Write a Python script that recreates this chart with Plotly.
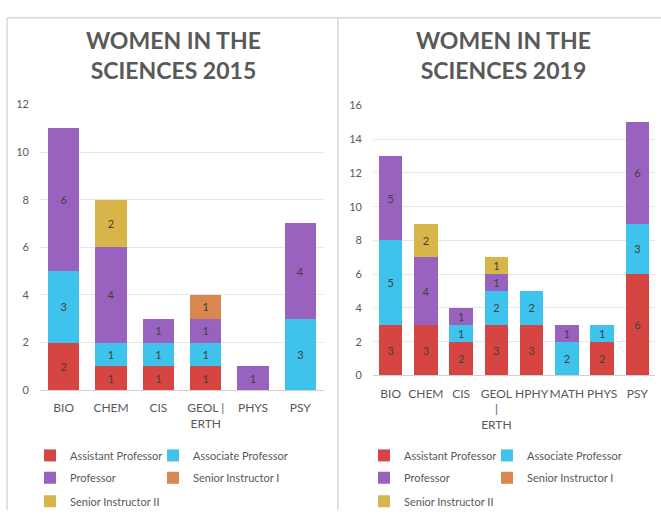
import plotly.graph_objects as go

W, H = 661, 516

# job titles (series) and their colours
roles = ["Assistant Professor", "Associate Professor", "Professor",
         "Senior Instructor I", "Senior Instructor II"]
role_colors = ["#d64541", "#3ec3ec", "#9a62bf", "#d9874f", "#d7b548"]

# 2015 chart
depts_2015 = ["BIO", "CHEM", "CIS", "GEOL | ERTH", "PHYS", "PSY"]
ticks_2015 = ["BIO", "CHEM", "CIS", "GEOL |<br>ERTH", "PHYS", "PSY"]
asst_2015 = [2, 1, 1, 1, 0, 0]
assoc_2015 = [3, 1, 1, 1, 0, 3]
prof_2015 = [6, 4, 1, 1, 1, 4]
si1_2015 = [0, 0, 0, 1, 0, 0]
si2_2015 = [0, 2, 0, 0, 0, 0]

# 2019 chart
depts_2019 = ["BIO", "CHEM", "CIS", "GEOL | ERTH", "HPHY", "MATH", "PHYS", "PSY"]
ticks_2019 = ["BIO", "CHEM", "CIS", "GEOL<br>|<br>ERTH", "HPHY", "MATH", "PHYS", "PSY"]
asst_2019 = [3, 3, 2, 3, 3, 0, 2, 6]
assoc_2019 = [5, 0, 1, 2, 2, 2, 1, 3]
prof_2019 = [5, 4, 1, 1, 0, 1, 0, 6]
si1_2019 = [0, 0, 0, 0, 0, 0, 0, 0]
si2_2019 = [0, 2, 0, 1, 0, 0, 0, 0]

FONT = "Lato"
GREY = "#595959"


def px_x(p):
    return p / W


def px_y(p):
    return 1 - p / H


def legend_name(k):
    return "legend" if k == 1 else "legend%d" % k


fig = go.Figure()

panels = [
    (depts_2015, [asst_2015, assoc_2015, prof_2015, si1_2015, si2_2015], "x", "y", 30),
    (depts_2019, [asst_2019, assoc_2019, prof_2019, si1_2019, si2_2019], "x2", "y2", 364),
]

# each legend entry gets its own legend so the 2-column grid can be placed freely
legend_rows = [460, 483, 507]
col_step = 123
k = 0
for depts, series, xa, ya, leg_left in panels:
    for i, (role, color, vals) in enumerate(zip(roles, role_colors, series)):
        k += 1
        fig.add_trace(go.Bar(
            x=depts,
            y=[v if v else None for v in vals],
            name=role,
            marker=dict(color=color, line=dict(width=0)),
            text=[str(v) if v else "" for v in vals],
            textposition="inside",
            insidetextanchor="middle",
            textangle=0,
            constraintext="none",
            textfont=dict(family=FONT, size=11, color="#404040"),
            xaxis=xa, yaxis=ya,
            legend=legend_name(k),
            showlegend=True,
            hoverinfo="x+y+name",
        ))
        fig.update_layout({legend_name(k): dict(
            orientation="h",
            x=px_x(leg_left + (i % 2) * col_step), xanchor="left",
            y=px_y(legend_rows[i // 2]), yanchor="middle",
            font=dict(family=FONT, size=11, color=GREY),
            bgcolor="rgba(0,0,0,0)", borderwidth=0,
            visible=True,
        )})

axis_font = dict(family=FONT, size=11, color=GREY)
cat_font = dict(family=FONT, size=12, color=GREY)

fig.update_layout(
    width=W, height=H,
    margin=dict(l=0, r=0, t=0, b=0),
    paper_bgcolor="white", plot_bgcolor="white",
    showlegend=True,
    barmode="stack", bargap=0.34,
    uniformtext=dict(minsize=11, mode="show"),
    xaxis=dict(domain=[px_x(40), px_x(324)], anchor="y", tickvals=depts_2015,
               ticktext=ticks_2015, tickfont=cat_font, tickangle=0, showline=True,
               linecolor="#d0d0d0", linewidth=1, ticks="", showgrid=False,
               ticklabelstandoff=7),
    yaxis=dict(domain=[px_y(393), px_y(100)], anchor="x", range=[0, 12], dtick=2,
               tickfont=axis_font, gridcolor="#e6e6e6",
               zeroline=False, ticklabelstandoff=10),
    xaxis2=dict(domain=[px_x(373), px_x(655)], anchor="y2", tickvals=depts_2019,
                ticktext=ticks_2019, tickfont=cat_font, tickangle=0, showline=True,
                linecolor="#d0d0d0", linewidth=1, ticks="", showgrid=False,
                ticklabelstandoff=7),
    yaxis2=dict(domain=[px_y(378), px_y(101)], anchor="x2", range=[0, 16], dtick=2,
                tickfont=axis_font, gridcolor="#e6e6e6",
                zeroline=False, ticklabelstandoff=10),
)

# chart titles
for cx, title in [(173, "WOMEN IN THE<br>SCIENCES 2015"), (503, "WOMEN IN THE<br>SCIENCES 2019")]:
    fig.add_annotation(x=px_x(cx), y=px_y(49), xref="paper", yref="paper",
                       text=title, showarrow=False, xanchor="center", yanchor="middle",
                       font=dict(family=FONT, size=23, color=GREY, weight="bold"))

# panel frames
frame = dict(color="#d9d9d9", width=1.5)
fig.add_shape(type="line", xref="paper", yref="paper", x0=px_x(7), x1=1, y0=px_y(11), y1=px_y(11), line=frame)
fig.add_shape(type="line", xref="paper", yref="paper", x0=px_x(7), x1=px_x(7), y0=px_y(11), y1=0, line=frame)
fig.add_shape(type="line", xref="paper", yref="paper", x0=px_x(338), x1=px_x(338), y0=px_y(11), y1=0, line=frame)

fig.write_html("out.html", config={"displayModeBar": False},
               post_script="document.body.style.margin='0';")
